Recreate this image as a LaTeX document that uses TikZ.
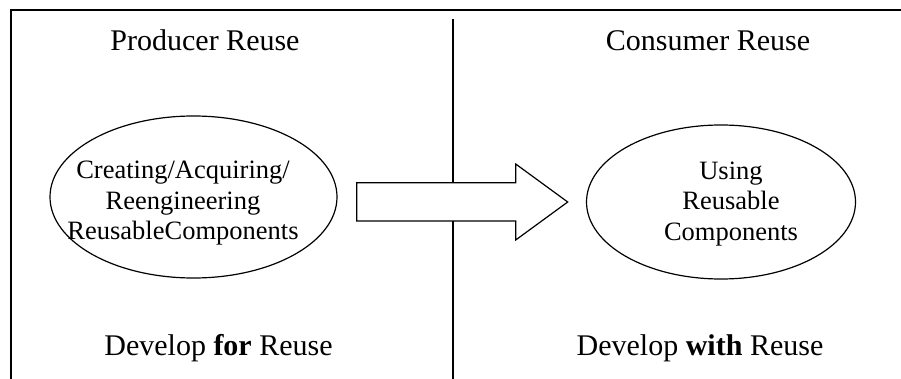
\documentclass[tikz,border=0pt]{standalone}
\usepackage{fontspec}
\setmainfont{Liberation Serif}
\usetikzlibrary{shapes.geometric}
\begin{document}
\begin{tikzpicture}[x=1pt,y=-1pt,
  frame/.style={line width=1.6pt},
  divider/.style={line width=1.2pt},
  oval/.style={ellipse,draw,line width=1.2pt,inner sep=0pt},
  heading/.style={anchor=base,inner sep=0pt,font=\fontsize{30}{34}\selectfont},
  ovaltext/.style={align=center,inner sep=0pt,font=\fontsize{26.5}{30.5}\selectfont},
  bigarrow/.style={draw,fill=white,line width=1.2pt,line join=miter}]
\useasboundingbox (0,0) rectangle (901,379);

% open frame: top and left edges only
\draw[frame] (901,10) -- (11,10) -- (11,379);
% divider between the two halves
\draw[divider] (453,19) -- (453,379);

% headings
\node[heading] (prodhead) at (205,51) {Producer Reuse};
\node[heading] (conshead) at (708,51) {Consumer Reuse};
\node[heading] (prodfoot) at (218.5,355) {Develop \textbf{for} Reuse};
\node[heading] (consfoot) at (700,355) {Develop \textbf{with} Reuse};

% the two activities
\node[oval,minimum width=287pt,minimum height=162pt] (producer) at (193.5,197) {};
\node[oval,minimum width=269pt,minimum height=154pt] (consumer) at (721,202) {};
\node[ovaltext] (prodtext) at (183,203.3) {Creating/Acquiring/\\Reengineering\\ReusableComponents};
\node[ovaltext] (constext) at (731,203.6) {Using\\Reusable\\Components};

% block arrow from producer to consumer, covering the divider
\draw[bigarrow] (356.7,182.7) -- (515.7,182.7) -- (515.7,164) -- (567.7,202)
  -- (515.7,240) -- (515.7,221) -- (356.7,221) -- cycle;
\end{tikzpicture}
\end{document}
